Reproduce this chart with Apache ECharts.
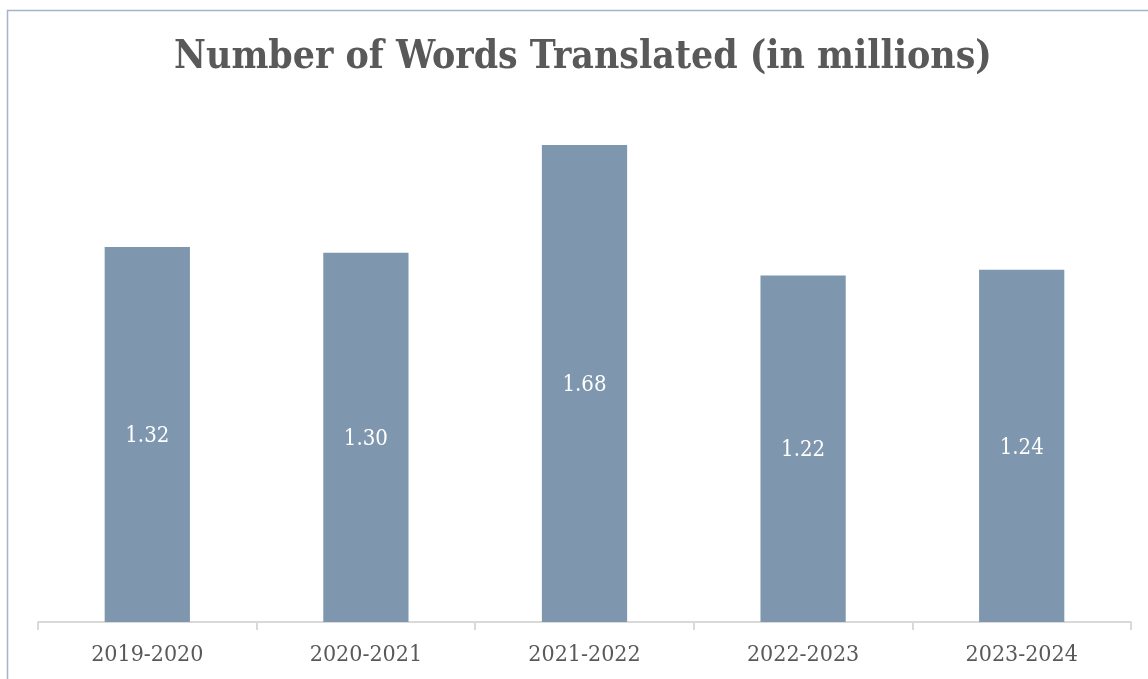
<!DOCTYPE html>
<html>
<head>
<meta charset="utf-8">
<script src="https://cdn.jsdelivr.net/npm/echarts@6/dist/echarts.min.js"></script>
<style>
html,body{margin:0;padding:0;background:#fff;}
#chart{width:1148px;height:679px;}
</style>
</head>
<body>
<div id="chart"></div>
<script>
var categories = ['2019-2020', '2020-2021', '2021-2022', '2022-2023', '2023-2024'];
var wordsTranslated = [1.32, 1.30, 1.68, 1.22, 1.24];
var titleText = 'Number of Words Translated (in millions)';

var serif = '"DejaVu Serif Condensed", "DejaVu Serif", serif';
var chart = echarts.init(document.getElementById('chart'));
chart.setOption({
  animation: false,
  backgroundColor: '#ffffff',
  graphic: [{
    type: 'rect',
    shape: { x: 7.5, y: 10.5, width: 1300, height: 800 },
    style: { fill: 'none', stroke: '#a3b5cb', lineWidth: 1.5 },
    silent: true, z: 0
  }],
  title: {
    text: titleText,
    left: 578,
    textAlign: 'center',
    top: 33,
    textStyle: {
      fontFamily: serif,
      fontWeight: 'bold',
      fontSize: 38.8,
      color: '#595959'
    }
  },
  grid: { left: 38, right: 17, top: 54, bottom: 57 },
  xAxis: {
    type: 'category',
    data: categories,
    axisLine: { lineStyle: { color: '#d9d9d9', width: 2 } },
    axisTick: { show: true, length: 8, lineStyle: { color: '#d9d9d9', width: 2 } },
    axisLabel: {
      fontFamily: serif,
      fontSize: 23,
      color: '#595959',
      margin: 22
    }
  },
  yAxis: {
    type: 'value',
    min: 0,
    max: 2,
    show: false,
    splitLine: { show: false }
  },
  series: [{
    type: 'bar',
    data: wordsTranslated,
    barWidth: '39%',
    itemStyle: { color: '#7f97ae' },
    label: {
      show: true,
      position: 'inside',
      offset: [0, 2],
      color: '#ffffff',
      fontFamily: serif,
      fontSize: 22,
      formatter: function (p) { return p.value.toFixed(2); }
    }
  }]
});
</script>
</body>
</html>
